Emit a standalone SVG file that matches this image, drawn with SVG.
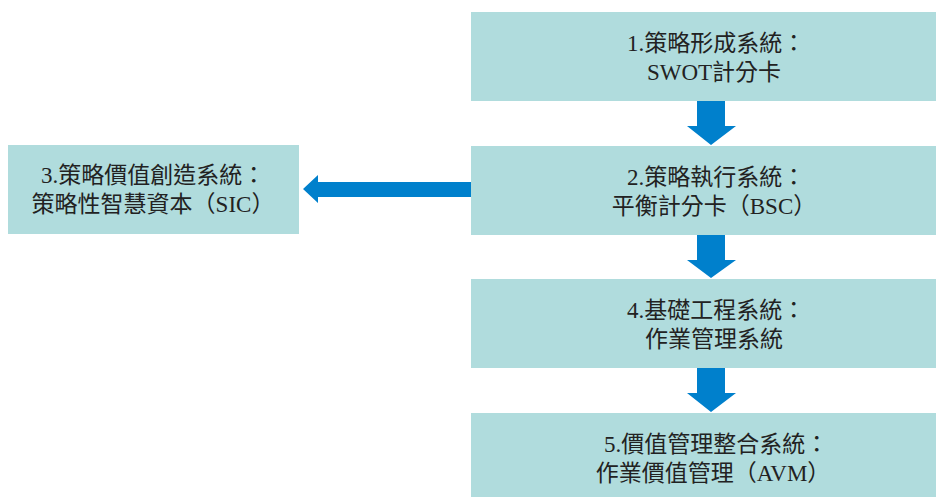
<svg xmlns="http://www.w3.org/2000/svg" width="936" height="497" viewBox="0 0 936 497">
<style>
.box{fill:#B0DCDD;}
.arr{fill:#0080CC;}
text{font-family:"Liberation Serif","Noto Sans CJK TC",serif;font-size:23px;fill:#222222;text-anchor:middle;}
</style>
<rect width="936" height="497" fill="#ffffff"/>
<g id="node1">
<rect class="box" x="471" y="12" width="465" height="89"/>
<text x="716" y="51">1.策略形成系統：</text>
<text x="714" y="80">SWOT計分卡</text>
</g>
<g id="node2">
<rect class="box" x="471" y="146" width="465" height="89"/>
<text x="716" y="185">2.策略執行系統：</text>
<text x="714" y="214">平衡計分卡（BSC）</text>
</g>
<g id="node3">
<rect class="box" x="8" y="145" width="291" height="89"/>
<text x="153" y="183">3.策略價值創造系統：</text>
<text x="153" y="212">策略性智慧資本（SIC）</text>
</g>
<g id="node4">
<rect class="box" x="471" y="279" width="465" height="89"/>
<text x="716" y="318">4.基礎工程系統：</text>
<text x="714" y="347">作業管理系統</text>
</g>
<g id="node5">
<rect class="box" x="471" y="413" width="465" height="84"/>
<text x="716" y="452">5.價值管理整合系統：</text>
<text x="713" y="481">作業價值管理（AVM）</text>
</g>
<g id="connectors">
<polygon class="arr" points="697,101 725,101 725,126 736,126 711,145 687,126 697,126"/>
<polygon class="arr" points="697,235 725,235 725,260 736,260 711,278 687,260 697,260"/>
<polygon class="arr" points="697,368 725,368 725,393 736,393 711,412 687,393 697,393"/>
<polygon class="arr" points="471,182 471,197 318,197 318,203 303,189 318,175 318,182"/>
</g>
</svg>
